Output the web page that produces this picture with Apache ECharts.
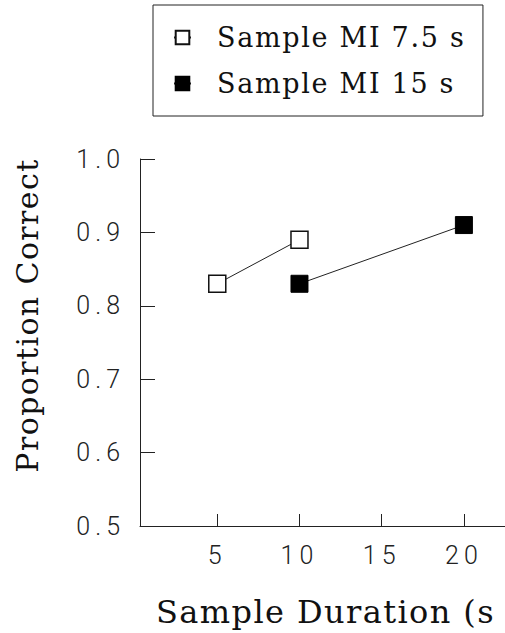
<!DOCTYPE html>
<html>
<head>
<meta charset="utf-8">
<script src="https://cdn.jsdelivr.net/npm/echarts@6/dist/echarts.min.js"></script>
<style>
  html, body { margin: 0; padding: 0; background: #fff; }
  #chart { width: 505px; height: 633px; }
  /* the figure's type is tracked out */
  #chart text { letter-spacing: 5px; }
  #chart text[style*="Serif"] { letter-spacing: 1.4px; }
  #chart text[style*="Serif"][style*="27px"] { letter-spacing: 1.7px; }
</style>
</head>
<body>
<div id="chart"></div>
<script>
// values
const xTicks = [5, 10, 15, 20];
const mi75Durations = [5, 10];
const mi75Values = [0.83, 0.89];
const mi15Durations = [10, 20];
const mi15Values = [0.83, 0.91];
const seriesNames = ["Sample MI 7.5 s", "Sample MI 15 s"];

const serif = "DejaVu Serif";
const thinSans = "Roboto";

const chart = echarts.init(document.getElementById("chart"), null, { renderer: "svg" });

const toPoints = (xs, ys) => xs.map((x, i) => [x, ys[i]]);

chart.setOption({
  animation: false,
  legend: {
    orient: "vertical",
    left: 153,
    top: 5,
    padding: [19, 43, 19, 20],
    itemGap: 19,
    itemWidth: 17,
    itemHeight: 17,
    borderColor: "#222",
    borderWidth: 1,
    data: seriesNames,
    textStyle: {
      fontFamily: serif,
      fontSize: 27,
      color: "#111",
      padding: [0, 0, 0, 21],
    },
  },
  grid: {
    left: 140,
    right: 0,
    top: 159,
    bottom: 102,
    containLabel: false,
  },
  xAxis: {
    type: "value",
    min: 0.3,
    max: 22.5,
    name: "Sample Duration (s",
    nameLocation: "middle",
    nameGap: 70,
    nameTextStyle: {
      fontFamily: serif,
      fontSize: 32,
      color: "#111",
      padding: [0, 0, 0, 6],
    },
    axisLine: { lineStyle: { color: "#222", width: 1 } },
    axisTick: {
      inside: true,
      length: 12,
      customValues: xTicks,
      lineStyle: { color: "#222" },
    },
    axisLabel: {
      customValues: xTicks,
      margin: 17,
      fontFamily: thinSans,
      fontWeight: 300,
      fontSize: 25,
      color: "#222",
    },
    splitLine: { show: false },
  },
  yAxis: {
    type: "value",
    min: 0.5,
    max: 1.0,
    interval: 0.1,
    name: "Proportion Correct",
    nameLocation: "middle",
    nameRotate: 90,
    nameGap: 98,
    nameTextStyle: {
      fontFamily: serif,
      fontSize: 30,
      color: "#111",
      padding: [0, 0, 0, 54],
    },
    axisLine: { show: true, lineStyle: { color: "#222", width: 1 } },
    axisTick: {
      show: true,
      inside: true,
      length: 15,
      lineStyle: { color: "#222" },
    },
    axisLabel: {
      margin: 15,
      fontFamily: thinSans,
      fontWeight: 300,
      fontSize: 25,
      color: "#222",
      formatter: (v) => v.toFixed(1),
    },
    splitLine: { show: false },
  },
  series: [
    {
      name: seriesNames[0],
      type: "line",
      data: toPoints(mi75Durations, mi75Values),
      symbol: "rect",
      symbolSize: 17,
      lineStyle: { color: "#222", width: 1 },
      itemStyle: { color: "#fff", borderColor: "#111", borderWidth: 1.5 },
      z: 3,
    },
    {
      name: seriesNames[1],
      type: "line",
      data: toPoints(mi15Durations, mi15Values),
      symbol: "rect",
      symbolSize: 17,
      lineStyle: { color: "#222", width: 1 },
      itemStyle: { color: "#000", borderColor: "#000", borderWidth: 1 },
      z: 3,
    },
  ],
});
</script>
</body>
</html>
